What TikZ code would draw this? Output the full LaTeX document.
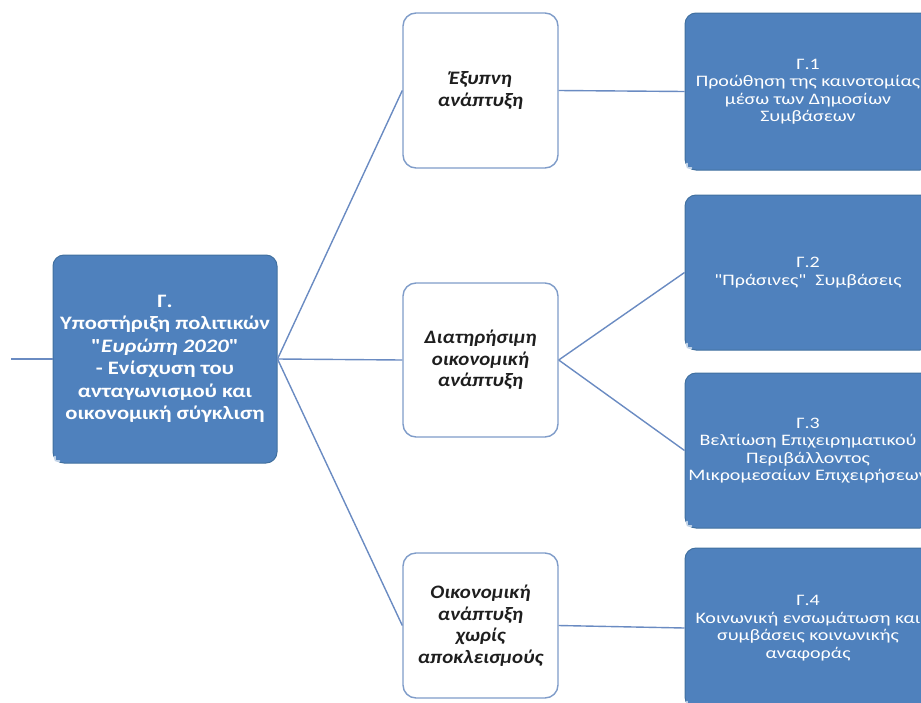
\documentclass[tikz,border=0pt]{standalone}
\usepackage{fontspec}
\setmainfont{Carlito}
\newfontfamily\lfont[FakeStretch=1.19]{Carlito}
\newfontfamily\mfont[FakeStretch=1.1]{Carlito}
\newfontfamily\rfont[FakeStretch=1.25]{Carlito}
\definecolor{accblue}{HTML}{4F81BD}
\definecolor{accedge}{HTML}{41709F}
\definecolor{midedge}{HTML}{7F9CC9}
\definecolor{linkc}{HTML}{6A8BC2}
\definecolor{midtext}{HTML}{1E1E1E}
\begin{document}
\begin{tikzpicture}[x=1pt,y=-1pt,
  bluebox/.style={draw=accedge, line width=1pt, fill=accblue, rounded corners=11pt, text=white, align=center, inner sep=0pt},
  whitebox/.style={draw=midedge, line width=1.4pt, fill=white, rounded corners=13pt, text=midtext, align=center, inner sep=0pt},
  link/.style={draw=linkc, line width=1.4pt},
  bevel/.style={draw=white!65!accblue, line width=1.6pt, line cap=round}]
\useasboundingbox (0,0) rectangle (921,702);
\clip (0,0) rectangle (921,702);
% nodes
\node[bluebox, minimum width=224pt, minimum height=208pt, font=\lfont\bfseries\fontsize{19}{22.5}\selectfont] (main) at (165,359)
  {Γ.\\Υποστήριξη πολιτικών\\"\textit{Ευρώπη 2020}"\\- Ενίσχυση του\\ανταγωνισμού και\\οικονομική σύγκλιση};
\node[whitebox, minimum width=155pt, minimum height=155pt, font=\mfont\bfseries\itshape\fontsize{19}{21.5}\selectfont] (m1) at (480.5,90.5)
  {Έξυπνη\\ανάπτυξη};
\node[whitebox, minimum width=155pt, minimum height=154pt, font=\mfont\bfseries\itshape\fontsize{19}{21.5}\selectfont] (m2) at (480.5,360)
  {Διατηρήσιμη\\οικονομική\\ανάπτυξη};
\node[whitebox, minimum width=155pt, minimum height=145pt, font=\mfont\bfseries\itshape\fontsize{19}{21.5}\selectfont] (m3) at (480.5,625.5)
  {Οικονομική\\ανάπτυξη\\χωρίς\\αποκλεισμούς};
\node[bluebox, minimum width=246pt, minimum height=157pt, font=\rfont\fontsize{16}{17.5}\selectfont] (r1) at (808,91.5)
  {Γ.1\\Προώθηση της καινοτομίας\\μέσω των Δημοσίων\\Συμβάσεων};
\node[bluebox, minimum width=246pt, minimum height=155pt, font=\rfont\fontsize{16}{17.5}\selectfont] (r2) at (808,272.5)
  {Γ.2\\"Πράσινες"\ \ Συμβάσεις};
\node[bluebox, minimum width=246pt, minimum height=155pt, font=\rfont\fontsize{16}{17.5}\selectfont] (r3) at (808,450.5)
  {Γ.3\\Βελτίωση Επιχειρηματικού\\Περιβάλλοντος\\Μικρομεσαίων Επιχειρήσεων};
\node[bluebox, minimum width=246pt, minimum height=160pt, font=\rfont\fontsize{16}{17.5}\selectfont] (r4) at (808,628)
  {Γ.4\\Κοινωνική ενσωμάτωση και\\συμβάσεις κοινωνικής\\αναφοράς};
\coordinate (lstart) at (11,359);
% bevel highlights at bottom-left corners of blue boxes
\foreach \b in {main,r1,r2,r3,r4}{
  \draw[bevel] ([shift={(2.5pt,7pt)}]\b.south west) .. controls ([shift={(2.5pt,2.5pt)}]\b.south west) .. ([shift={(7pt,2.5pt)}]\b.south west);
}
% connectors
\draw[link] (lstart) -- (main.west);
\draw[link] (main.east) -- (m1.west);
\draw[link] (main.east) -- (m2.west);
\draw[link] (main.east) -- (m3.west);
\draw[link] (m1.east) -- (r1.west);
\draw[link] (m2.east) -- (r2.west);
\draw[link] (m2.east) -- (r3.west);
\draw[link] (m3.east) -- (r4.west);
\end{tikzpicture}
\end{document}
